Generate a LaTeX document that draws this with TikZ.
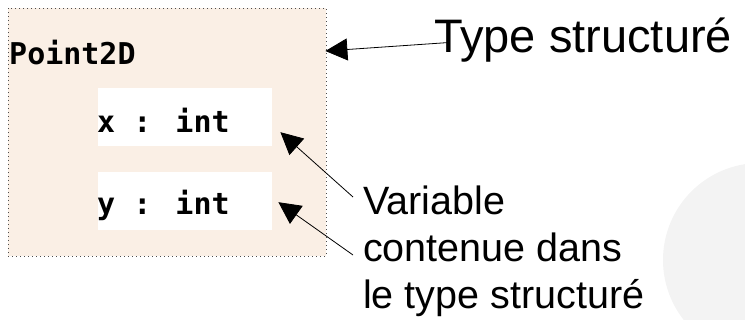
\documentclass[tikz,border=0pt]{standalone}
\usepackage{fontspec}
\setmainfont{Liberation Sans}
\newfontfamily\codefont{DejaVu Sans Mono}
\usetikzlibrary{arrows.meta}
\definecolor{fond}{RGB}{250,239,229}
\definecolor{disque}{RGB}{243,243,243}
\begin{document}
\begin{tikzpicture}[x=1pt, y=-1pt, line join=round,
		code/.style={font={\codefont\bfseries\fontsize{30}{30}\selectfont}, inner sep=0pt, anchor=base west},
		champ/.style={fill=white, minimum width=174pt, minimum height=58pt, anchor=north west, inner sep=0pt},
		legende/.style={font={\fontsize{39.5}{47}\selectfont}, align=left, inner sep=0pt},
		fleche/.style={-{Triangle[length=22pt,width=22pt]}, line width=0.8pt}]
	\useasboundingbox (0,0) rectangle (745,320);
	\begin{scope}
		\clip (0,0) rectangle (745,320);
		\fill[disque] (760,260) circle (97pt);
	\end{scope}
	% le type structure et ses champs
	\node[draw=black!70, dash pattern=on 1pt off 3pt, fill=fond, minimum width=318pt, minimum height=248pt, anchor=north west, inner sep=0pt] (boite) at (8,8) {};
	\node[code] (nom) at (9,65) {Point2D};
	\node[champ] (xf) at (98,88) {};
	\node[champ] (yf) at (98,172) {};
	\node[code] (xtxt) at (97,133) {x : int};
	\node[code] (ytxt) at (97,215) {y : int};
	% legendes
	\node[legende, font={\fontsize{47}{47}\selectfont}, anchor=base west] (titre) at (434,53) {Type structuré};
	\node[legende, anchor=north west] (var) at (363,186) {Variable\\contenue dans\\le type structuré};
	\draw[fleche] ([shift={(14,2)}]titre.west) -- ([shift={(-1,43)}]boite.north east);
	\draw[fleche] ([shift={(-10,11)}]var.north west) -- ([shift={(8,15)}]xf.east);
	\draw[fleche] ([shift={(-10,69)}]var.north west) -- ([shift={(6,1)}]yf.east);
\end{tikzpicture}
\end{document}
